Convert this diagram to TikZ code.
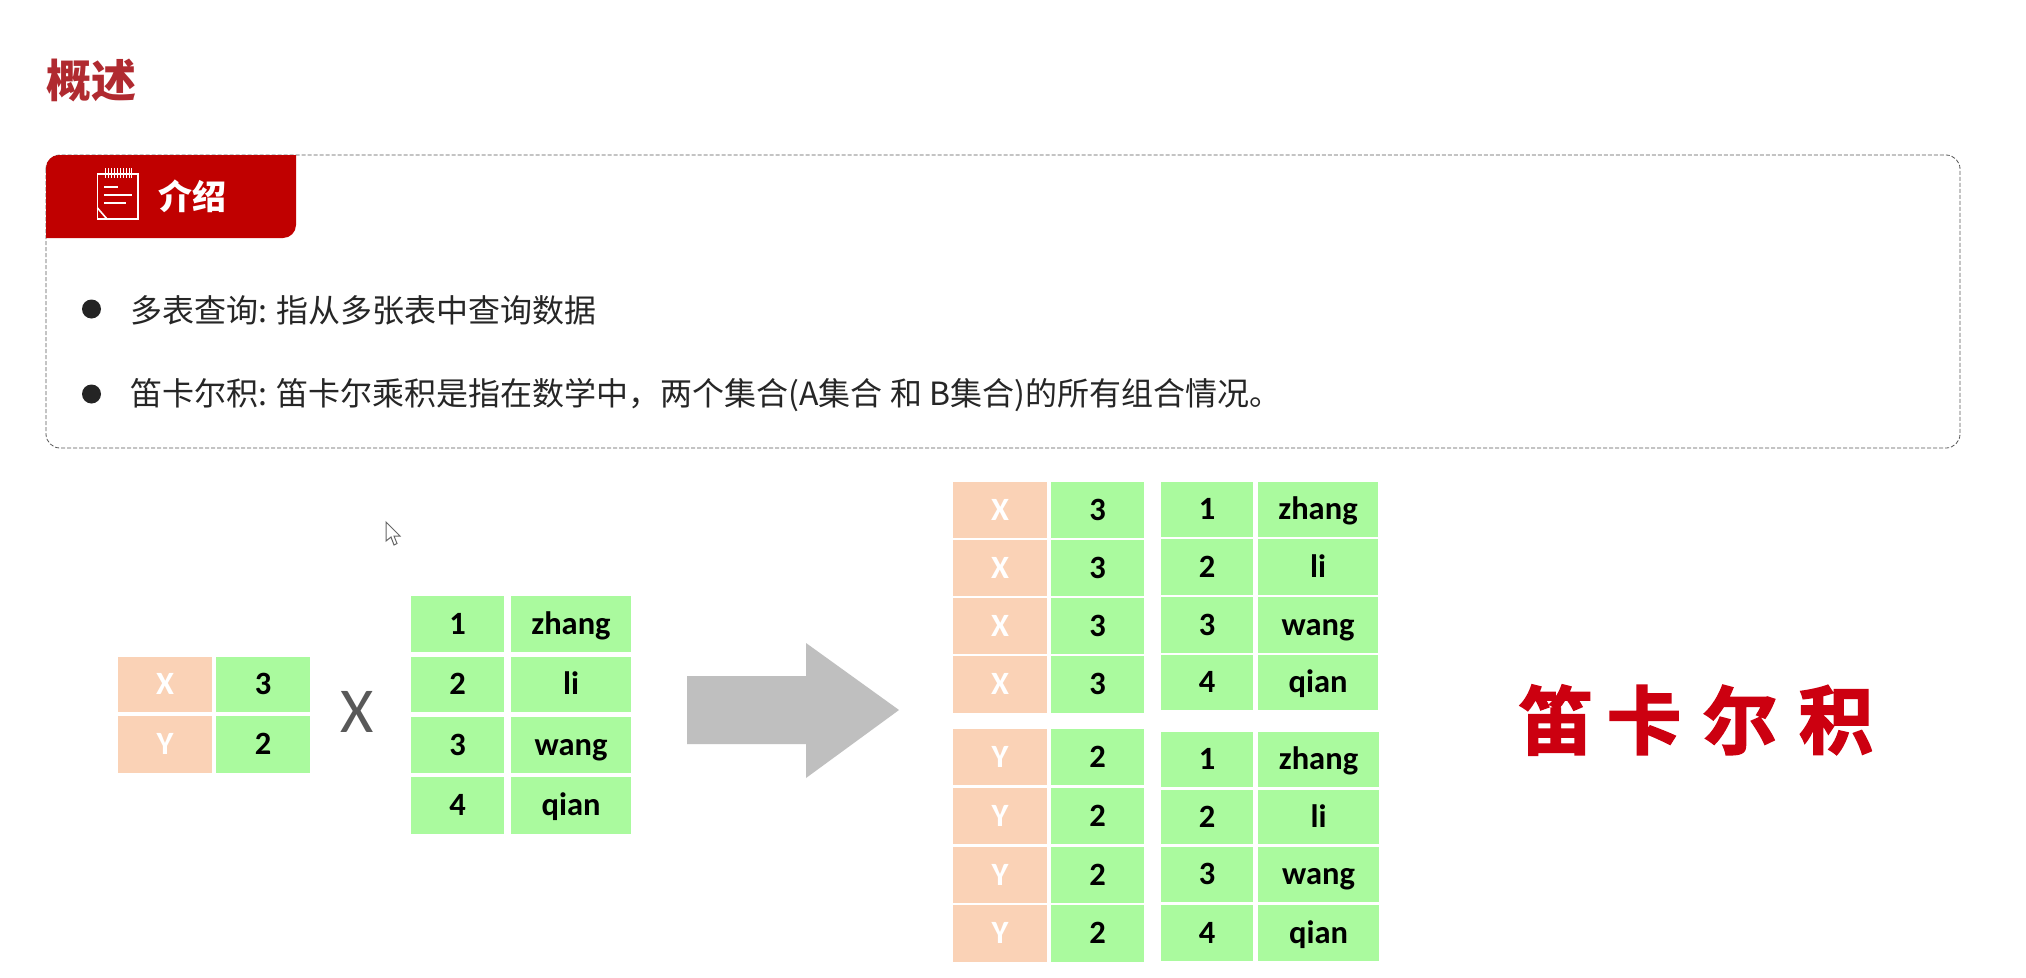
\documentclass[tikz,border=0pt]{standalone}
\usepackage{fontspec}
\setmainfont{Carlito}
\newfontfamily\cjk{Noto Sans CJK SC}
\newfontfamily\cjkbrush[FakeBold=2.5]{Noto Sans CJK SC Bold}
\definecolor{cellgreen}{HTML}{AAFA9E}
\definecolor{cellorange}{HTML}{FAD2B6}
\definecolor{tabred}{HTML}{C00000}
\definecolor{titlered}{HTML}{B02A30}
\definecolor{bodyink}{HTML}{262626}
\definecolor{brushred}{HTML}{CC0010}
\tikzset{
  gcell/.style={fill=cellgreen,draw=none,inner sep=0pt,text=black,font=\fontsize{32.5}{32.5}\selectfont\bfseries,text height=20pt,text depth=0pt},
  ocell/.style={fill=cellorange,draw=none,inner sep=0pt,text=white,font=\fontsize{32.5}{32.5}\selectfont\bfseries,text height=20pt,text depth=0pt},
  bodytext/.style={inner sep=0pt,anchor=west,text=bodyink,font=\cjk\fontsize{32}{32}\selectfont},
  brush/.style={inner sep=0pt,text=brushred,font=\cjkbrush\fontsize{74}{74}\selectfont},
  bulletdot/.style={circle,fill=bodyink!95!black,inner sep=0pt,minimum size=19pt},
}
% \cellbox{name}{style}{x1}{y1}{x2}{y2}{text}
\newcommand{\cellbox}[7]{\node[#2,minimum width=#5pt-#3pt,minimum height=#6pt-#4pt] (#1) at ({(#3+#5)/2},{(#4+#6)/2}) {#7};}
\begin{document}
\begin{tikzpicture}[x=1pt,y=-1pt]
\useasboundingbox (0,0) rectangle (2026,977);
\fill[white] (0,0) rectangle (2026,977);
% title
\node[inner sep=0pt,anchor=west,text=titlered,font=\cjk\bfseries\fontsize{45}{45}\selectfont] (title) at (46,80) {概述};
% panel
\draw[draw=black!65,dash pattern=on 4pt off 2pt,line width=0.8pt,rounded corners=14pt] (46,155) rectangle (1960,448);
\fill[tabred] (46,238) [rounded corners=13pt] -- (46,155) [sharp corners] -- (296,155) [rounded corners=13pt] -- (296,238) [sharp corners] -- cycle;
% icon
\draw[white,line width=1.6pt] (97.5,174) rectangle (138,219);
\draw[white,line width=1.6pt] (97.5,208) -- (107,219);
\foreach \ix in {105,108,111,114,117,120,123,126,129,131}{\draw[white,line width=0.9pt] (\ix,168) -- (\ix,178);}
\draw[white,line width=1.4pt] (104,187) -- (118,187);
\draw[white,line width=1.4pt] (104,195) -- (132,195);
\draw[white,line width=1.4pt] (104,203) -- (126,203);
\node[inner sep=0pt,anchor=west,text=white,font=\cjk\bfseries\fontsize{34}{34}\selectfont] (tabtitle) at (158,196) {介绍};
% bullets
\node[bulletdot] (b1) at (91.5,309) {};
\node[bulletdot] (b2) at (91.5,394) {};
\node[bodytext] (t1) at (130,310) {多表查询: 指从多张表中查询数据};
\node[bodytext] (t2) at (130,395) {笛卡尔积: 笛卡尔乘积是指在数学中，两个集合(A集合 和 B集合)的所有组合情况。};
% left table
\cellbox{la}{ocell}{118}{657}{212}{712}{X}
\cellbox{lb}{gcell}{216}{657}{310}{712}{3}
\cellbox{lc}{ocell}{118}{716}{212}{773}{Y}
\cellbox{ld}{gcell}{216}{716}{310}{773}{2}
\node[inner sep=0pt,text=black!65,font=\fontsize{64}{64}\selectfont,text height=40pt,text depth=0pt] (times) at (357,712) {X};
% middle table
\cellbox{ma}{gcell}{411}{596}{504}{652}{1}
\cellbox{mb}{gcell}{511}{596}{631}{652}{zhang}
\cellbox{mc}{gcell}{411}{657}{504}{712}{2}
\cellbox{md}{gcell}{511}{657}{631}{712}{li}
\cellbox{me}{gcell}{411}{717}{504}{773}{3}
\cellbox{mf}{gcell}{511}{717}{631}{773}{wang}
\cellbox{mg}{gcell}{411}{777}{504}{834}{4}
\cellbox{mh}{gcell}{511}{777}{631}{834}{qian}
% big arrow
\fill[black!25] (687,676) -- (806,676) -- (806,643) -- (899,710) -- (806,778) -- (806,744) -- (687,744) -- cycle;
% result top-left
\cellbox{ra1}{ocell}{953}{482}{1047}{538}{X}
\cellbox{rb1}{gcell}{1051}{482}{1144}{538}{3}
\cellbox{ra2}{ocell}{953}{540}{1047}{596}{X}
\cellbox{rb2}{gcell}{1051}{540}{1144}{596}{3}
\cellbox{ra3}{ocell}{953}{598}{1047}{654}{X}
\cellbox{rb3}{gcell}{1051}{598}{1144}{654}{3}
\cellbox{ra4}{ocell}{953}{656}{1047}{713}{X}
\cellbox{rb4}{gcell}{1051}{656}{1144}{713}{3}
% result top-right
\cellbox{rc1}{gcell}{1161}{482}{1253}{537}{1}
\cellbox{rd1}{gcell}{1258}{482}{1378}{537}{zhang}
\cellbox{rc2}{gcell}{1161}{539}{1253}{595}{2}
\cellbox{rd2}{gcell}{1258}{539}{1378}{595}{li}
\cellbox{rc3}{gcell}{1161}{597}{1253}{653}{3}
\cellbox{rd3}{gcell}{1258}{597}{1378}{653}{wang}
\cellbox{rc4}{gcell}{1161}{655}{1253}{710}{4}
\cellbox{rd4}{gcell}{1258}{655}{1378}{710}{qian}
% result bottom-left
\cellbox{sa1}{ocell}{953}{729}{1047}{785}{Y}
\cellbox{sb1}{gcell}{1051}{729}{1144}{785}{2}
\cellbox{sa2}{ocell}{953}{788}{1047}{844}{Y}
\cellbox{sb2}{gcell}{1051}{788}{1144}{844}{2}
\cellbox{sa3}{ocell}{953}{847}{1047}{903}{Y}
\cellbox{sb3}{gcell}{1051}{847}{1144}{903}{2}
\cellbox{sa4}{ocell}{953}{905}{1047}{962}{Y}
\cellbox{sb4}{gcell}{1051}{905}{1144}{962}{2}
% result bottom-right
\cellbox{sc1}{gcell}{1161}{732}{1253}{787}{1}
\cellbox{sd1}{gcell}{1258}{732}{1379}{787}{zhang}
\cellbox{sc2}{gcell}{1161}{790}{1253}{844}{2}
\cellbox{sd2}{gcell}{1258}{790}{1379}{844}{li}
\cellbox{sc3}{gcell}{1161}{847}{1253}{902}{3}
\cellbox{sd3}{gcell}{1258}{847}{1379}{902}{wang}
\cellbox{sc4}{gcell}{1161}{905}{1253}{961}{4}
\cellbox{sd4}{gcell}{1258}{905}{1379}{961}{qian}
% brush title
\node[brush] (br1) at (1556,720) {笛};
\node[brush] (br2) at (1644,720) {卡};
\node[brush] (br3) at (1740,720) {尔};
\node[brush] (br4) at (1836,720) {积};
% mouse cursor
\draw[black!60,fill=white,line width=1pt] (386,522) -- (386,541) -- (391,537) -- (394,545) -- (397,543.5) -- (394,536) -- (400,536) -- cycle;
\end{tikzpicture}
\end{document}
